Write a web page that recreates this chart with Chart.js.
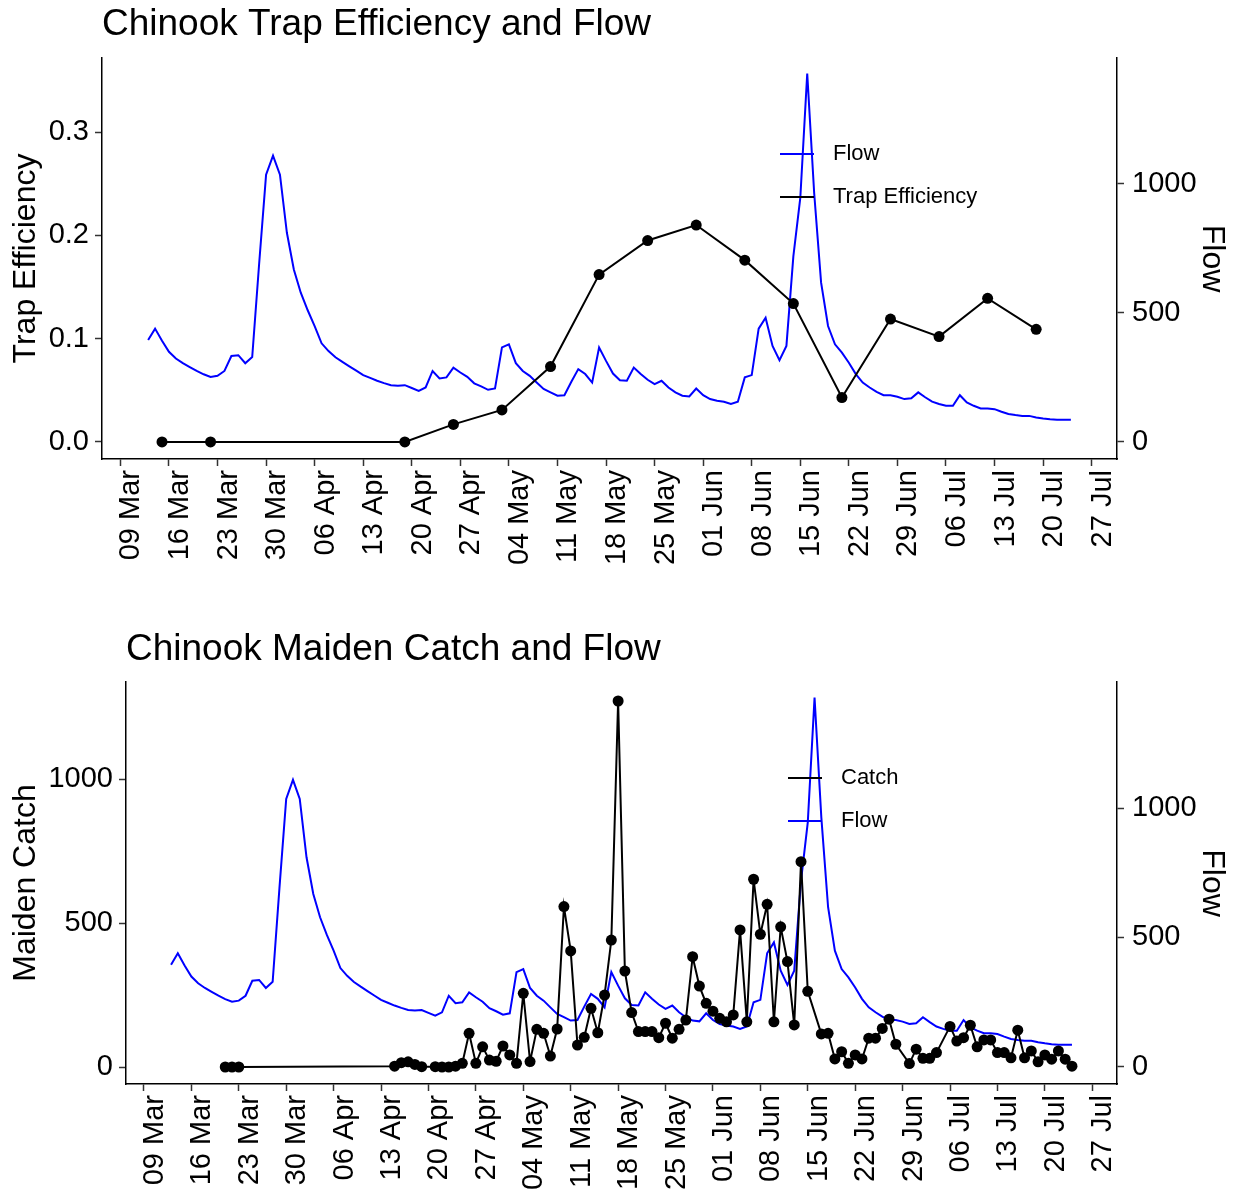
<!DOCTYPE html>
<html>
<head>
<meta charset="utf-8">
<title>Chinook Trap Efficiency, Maiden Catch and Flow</title>
<script src="https://cdn.jsdelivr.net/npm/chart.js@4.4.1/dist/chart.umd.min.js"></script>
<style>
  html, body { margin: 0; padding: 0; background: #fff; }
  canvas { display: block; }
</style>
</head>
<body>
<canvas id="chartTE" width="1238" height="600"></canvas>
<canvas id="chartCatch" width="1238" height="596"></canvas>
<script>
const FONT = "'Liberation Sans', Arial, sans-serif";

// weekly x ticks, starting 09 Mar
const tickLabels = ["09 Mar", "16 Mar", "23 Mar", "30 Mar", "06 Apr", "13 Apr", "20 Apr",
  "27 Apr", "04 May", "11 May", "18 May", "25 May", "01 Jun", "08 Jun", "15 Jun",
  "22 Jun", "29 Jun", "06 Jul", "13 Jul", "20 Jul", "27 Jul"];

// daily flow, 13 Mar to 24 Jul
const flowStart = "03-13";
const flowValues = [395, 439, 392, 349, 323, 305, 290, 275, 262, 252,
  256, 275, 333, 336, 305, 329, 690, 1035, 1109, 1035,
  810, 668, 578, 510, 449, 382, 352, 328, 310, 293,
  276, 259, 248, 237, 228, 220, 218, 220, 209, 198,
  211, 275, 246, 250, 288, 269, 252, 227, 215, 202,
  207, 366, 378, 305, 275, 256, 230, 205, 192, 179,
  181, 233, 282, 263, 230, 366, 314, 265, 239, 237,
  288, 263, 241, 224, 237, 211, 192, 179, 176, 207,
  181, 166, 160, 156, 147, 156, 250, 259, 439, 481,
  372, 317, 372, 719, 945, 1427, 964, 617, 449, 378,
  346, 307, 263, 230, 211, 194, 181, 181, 175, 166,
  169, 192, 173, 156, 147, 140, 140, 181, 153, 140,
  130, 130, 127, 117, 108, 104, 101, 101, 95, 91,
  88, 86, 86, 86];

// weekly trap efficiency
const teDates = ["03-15", "03-22", "04-19", "04-26", "05-03", "05-10", "05-17", "05-24",
  "05-31", "06-07", "06-14", "06-21", "06-28", "07-05", "07-12", "07-19"];
const teValues = [0, 0, 0, 0.017, 0.031, 0.073, 0.162, 0.195,
  0.21, 0.176, 0.134, 0.043, 0.119, 0.102, 0.139, 0.109];

// maiden catch
const catchDates = ["03-21", "03-22", "03-23",
  "04-15", "04-16", "04-17", "04-18", "04-19", "04-21", "04-22", "04-23", "04-24",
  "04-25", "04-26", "04-27", "04-28", "04-29", "04-30",
  "05-01", "05-02", "05-03", "05-04", "05-05", "05-06", "05-07", "05-08", "05-09", "05-10",
  "05-11", "05-12", "05-13", "05-14", "05-15", "05-16", "05-17", "05-18", "05-19", "05-20",
  "05-21", "05-22", "05-23", "05-24", "05-25", "05-26", "05-27", "05-28", "05-29", "05-30", "05-31",
  "06-01", "06-02", "06-03", "06-04", "06-05", "06-06", "06-07", "06-08", "06-09", "06-10",
  "06-11", "06-12", "06-13", "06-14", "06-15", "06-17", "06-18", "06-19", "06-20",
  "06-21", "06-22", "06-23", "06-24", "06-25", "06-26", "06-27", "06-28", "06-30",
  "07-01", "07-02", "07-03", "07-04", "07-06", "07-07", "07-08", "07-09", "07-10",
  "07-11", "07-12", "07-13", "07-14", "07-15", "07-16", "07-17", "07-18", "07-19", "07-20",
  "07-21", "07-22", "07-23", "07-24"];
const catchValues = [0, 0, 0,
  3, 15, 18, 9, 1, 1, 0, 0, 3,
  13, 117, 13, 70, 24, 20,
  73, 42, 13, 256, 19, 131, 117, 38, 132, 557,
  403, 76, 103, 204, 119, 250, 441, 1271, 333, 189,
  123, 123, 123, 102, 152, 100, 131, 163, 383, 281, 221,
  194, 169, 157, 181, 476, 157, 652, 461, 565, 157,
  487, 366, 146, 713, 263, 115, 117, 28, 53,
  13, 42, 28, 100, 100, 134, 166, 79, 12,
  62, 30, 30, 50, 141, 90, 102, 145, 70,
  94, 94, 50, 50, 32, 128, 32, 56, 18, 42,
  27, 56, 27, 3];

// days counted from 09 Mar
function dayNum(md) {
  const [m, d] = md.split("-").map(Number);
  return (Date.UTC(2019, m - 1, d) - Date.UTC(2019, 2, 9)) / 86400000;
}

const flowPoints = flowValues.map((v, i) => ({ x: dayNum(flowStart) + i, y: v }));
const tePoints = teDates.map((d, i) => ({ x: dayNum(d), y: teValues[i] }));
const catchPoints = catchDates.map((d, i) => ({ x: dayNum(d), y: catchValues[i] }));

const textPlugin = {
  id: 'chartTexts',
  afterDraw(chart, args, opts) {
    const ctx = chart.ctx;
    ctx.save();
    ctx.fillStyle = '#000';
    ctx.textBaseline = 'alphabetic';
    ctx.font = `37px ${FONT}`;
    ctx.fillText(opts.title, chart.chartArea.left, opts.titleY);

    ctx.font = `22px ${FONT}`;
    ctx.textBaseline = 'middle';
    opts.legend.forEach((idx, i) => {
      const ds = chart.data.datasets[idx];
      const y = opts.legendY + i * 43;
      ctx.strokeStyle = ds.borderColor;
      ctx.lineWidth = 2;
      ctx.beginPath();
      ctx.moveTo(opts.legendX, y);
      ctx.lineTo(opts.legendX + 34, y);
      ctx.stroke();
      ctx.fillText(ds.label, opts.legendX + 53, y);
    });
    ctx.restore();
  }
};

function axisStyle() {
  return {
    grid: { display: true, drawOnChartArea: false, drawTicks: true, tickLength: 7, tickColor: '#333', tickWidth: 1.5 },
    border: { display: true, color: '#000', width: 1.5 }
  };
}

function makeChart(id, cfg) {
  const xAxis = Object.assign(axisStyle(), {
    type: 'linear', min: -2.65, max: 143.65,
    afterBuildTicks: s => { s.ticks = tickLabels.map((t, i) => ({ value: i * 7 })); },
    afterFit: s => { s.height = cfg.xHeight; },
    ticks: {
      autoSkip: false, maxRotation: 90, minRotation: 90, padding: 4, labelOffset: 11,
      color: '#000', font: { family: FONT, size: 29 },
      callback: (v, i) => tickLabels[i]
    }
  });
  const yAxis = Object.assign(axisStyle(), {
    position: 'left', min: cfg.yMin, max: cfg.yMax,
    afterBuildTicks: s => { s.ticks = cfg.yTicks.map(v => ({ value: v })); },
    afterFit: s => { s.width = cfg.yWidth; },
    ticks: { padding: 6, color: '#000', font: { family: FONT, size: 29 }, callback: cfg.yFormat },
    title: { display: true, text: cfg.yTitle, color: '#000', font: { family: FONT, size: 32 }, padding: { top: 7, bottom: 0 } }
  });
  const y1Axis = Object.assign(axisStyle(), {
    position: 'right', min: -66, max: 1487,
    afterBuildTicks: s => { s.ticks = [0, 500, 1000].map(v => ({ value: v })); },
    afterFit: s => { s.width = 121; },
    ticks: { padding: 8, color: '#000', font: { family: FONT, size: 29 }, callback: v => String(v) },
    title: { display: true, text: 'Flow', color: '#000', font: { family: FONT, size: 32 }, padding: { top: 7, bottom: 0 } }
  });

  return new Chart(document.getElementById(id), {
    type: 'line',
    data: {
      datasets: [
        {
          label: cfg.mainLabel, data: cfg.mainPoints, yAxisID: 'y',
          borderColor: '#000', borderWidth: 2, tension: 0,
          pointRadius: 5.5, pointBackgroundColor: '#000', pointBorderWidth: 0
        },
        {
          label: 'Flow', data: flowPoints, yAxisID: 'y1',
          borderColor: '#0000ff', borderWidth: 2, tension: 0, pointRadius: 0
        }
      ]
    },
    options: {
      responsive: false,
      animation: false,
      devicePixelRatio: 1,
      layout: { padding: { top: cfg.padTop, left: 0, right: 0, bottom: 0 } },
      scales: { x: xAxis, y: yAxis, y1: y1Axis },
      plugins: {
        legend: { display: false },
        tooltip: { enabled: false },
        chartTexts: cfg.texts
      }
    },
    plugins: [textPlugin]
  });
}

makeChart('chartTE', {
  mainLabel: 'Trap Efficiency', mainPoints: tePoints,
  padTop: 58, xHeight: 141, yWidth: 102,
  yMin: -0.0165, yMax: 0.3717, yTicks: [0, 0.1, 0.2, 0.3],
  yFormat: v => v.toFixed(1), yTitle: 'Trap Efficiency',
  texts: { title: 'Chinook Trap Efficiency and Flow', titleY: 35, legend: [1, 0], legendX: 780, legendY: 154 }
});

makeChart('chartCatch', {
  mainLabel: 'Catch', mainPoints: catchPoints,
  padTop: 82, xHeight: 112, yWidth: 126,
  yMin: -59, yMax: 1337, yTicks: [0, 500, 1000],
  yFormat: v => String(v), yTitle: 'Maiden Catch',
  texts: { title: 'Chinook Maiden Catch and Flow', titleY: 60, legend: [0, 1], legendX: 788, legendY: 178 }
});
</script>
</body>
</html>
